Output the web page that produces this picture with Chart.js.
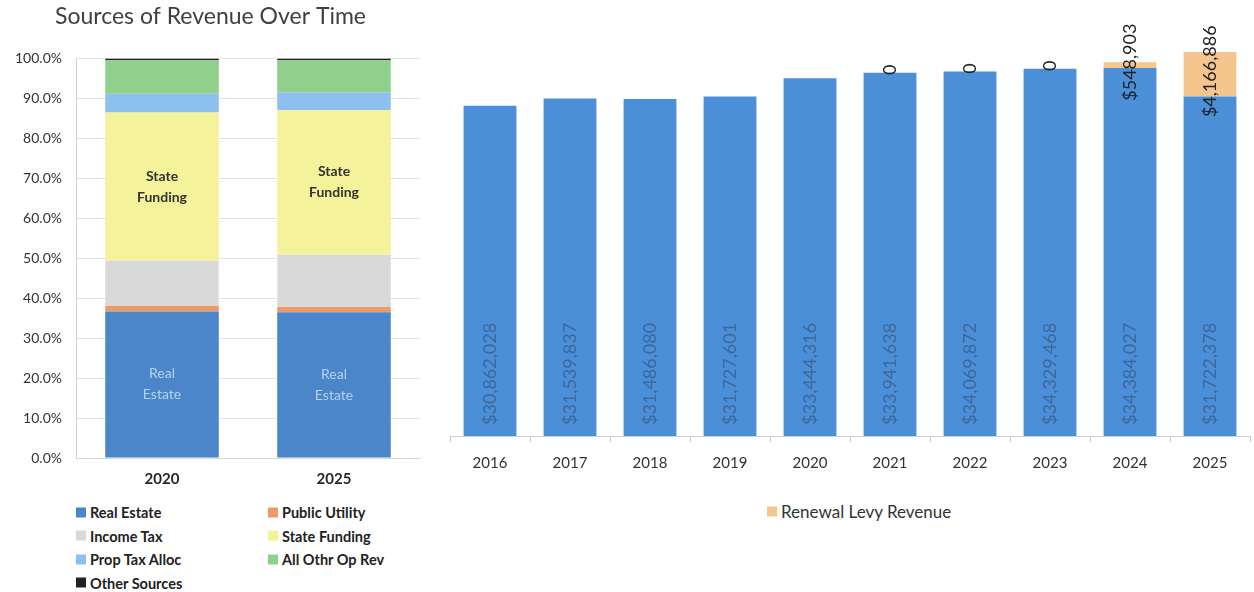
<!DOCTYPE html>
<html>
<head>
<meta charset="utf-8">
<title>Sources of Revenue Over Time</title>
<script src="https://cdn.jsdelivr.net/npm/chart.js@4.4.0/dist/chart.umd.min.js"></script>
<style>
    body {
        margin: 0;
        width: 1254px;
        height: 592px;
        position: relative;
        overflow: hidden;
        background: #fff;
        font-family: Lato, 'Open Sans', sans-serif;
    }
    #mixChart { position: absolute; left: 0; top: 0; }
    #levyChart { position: absolute; left: 440px; top: 0; }
    .legend-item {
        position: absolute;
        display: flex;
        align-items: center;
        white-space: nowrap;
        color: #222;
        transform: translateY(-50%);
    }
    .legend-box {
        width: 10px;
        height: 10px;
        margin-right: 4px;
    }
    #mixLegend .legend-item { font-size: 14.5px; font-weight: bold; }
    #levyLegend .legend-item { font-size: 17px; color: #333; }
</style>
</head>
<body>
<canvas id="mixChart" width="430" height="503"></canvas>
<canvas id="levyChart" width="814" height="492"></canvas>
<div id="mixLegend"></div>
<div id="levyLegend"></div>

<script>
// Revenue mix, percent of total
const mixYears = ['2020', '2025'];
const mixSources = ['Real Estate', 'Public Utility', 'Income Tax', 'State Funding', 'Prop Tax Alloc', 'All Othr Op Rev', 'Other Sources'];
const realEstate = [36.7, 36.5];
const publicUtility = [1.4, 1.3];
const incomeTax = [11.3, 13.1];
const stateFunding = [37.1, 36.2];
const propTaxAlloc = [4.7, 4.4];
const allOthrOpRev = [8.4, 8.1];
const otherSources = [0.4, 0.4];
const mixColors = ['#4a86c8', '#ee9a66', '#d9d9d9', '#f4f29b', '#8dc0ee', '#8fd18c', '#222222'];

// Real estate collections by year
const levyYears = ['2016', '2017', '2018', '2019', '2020', '2021', '2022', '2023', '2024', '2025'];
const baseRevenue = [30862028, 31539837, 31486080, 31727601, 33444316, 33941638, 34069872, 34329468, 34384027, 31722378];
const renewalLevy = [null, null, null, null, null, 0, 0, 0, 548903, 4166886];

const fontFamily = "Lato, 'Open Sans', sans-serif";

function formatDollar(value) {
    if (value === 0) return '0';
    return '$' + value.toLocaleString('en-US');
}

// Two-line names drawn inside the Real Estate and State Funding segments
const segmentNames = {
    id: 'segmentNames',
    afterDatasetsDraw(chart) {
        const ctx = chart.ctx;
        const named = [
            { index: 0, lines: ['Real', 'Estate'], color: '#b4d2ee', weight: 'normal' },
            { index: 3, lines: ['State', 'Funding'], color: '#333333', weight: 'bold' }
        ];
        named.forEach(n => {
            chart.getDatasetMeta(n.index).data.forEach(bar => {
                const cy = (bar.y + bar.base) / 2;
                ctx.save();
                ctx.fillStyle = n.color;
                ctx.font = `${n.weight} 14px ${fontFamily}`;
                ctx.textAlign = 'center';
                ctx.textBaseline = 'middle';
                ctx.fillText(n.lines[0], bar.x, cy - 10.5);
                ctx.fillText(n.lines[1], bar.x, cy + 10.5);
                ctx.restore();
            });
        });
    }
};

// Rotated dollar labels on the yearly bars
const levyLabels = {
    id: 'levyLabels',
    afterDatasetsDraw(chart) {
        const ctx = chart.ctx;
        chart.data.datasets.forEach((ds, di) => {
            chart.getDatasetMeta(di).data.forEach((bar, i) => {
                const value = ds.data[i];
                if (value === null || value === undefined) return;
                ctx.save();
                ctx.font = `18px ${fontFamily}`;
                ctx.textBaseline = 'middle';
                if (di === 0) {
                    ctx.translate(bar.x, bar.base - 11);
                    ctx.textAlign = 'left';
                    ctx.fillStyle = 'rgba(45, 65, 95, 0.5)';
                } else {
                    ctx.translate(bar.x, (bar.y + bar.base) / 2 - 3);
                    ctx.textAlign = 'center';
                    ctx.fillStyle = '#222';
                }
                ctx.rotate(-Math.PI / 2);
                ctx.fillText(formatDollar(value), 0, 0);
                ctx.restore();
            });
        });
    }
};

const mixValues = [realEstate, publicUtility, incomeTax, stateFunding, propTaxAlloc, allOthrOpRev, otherSources];

const mixChart = new Chart(document.getElementById('mixChart'), {
    type: 'bar',
    data: {
        labels: mixYears,
        datasets: mixSources.map((name, i) => ({
            label: name,
            data: mixValues[i],
            backgroundColor: mixColors[i],
            borderWidth: 0,
            categoryPercentage: 1,
            barPercentage: 0.66
        }))
    },
    options: {
        responsive: false,
        animation: false,
        layout: { padding: { left: 1, right: 10, top: 0, bottom: 3 } },
        plugins: {
            legend: { display: false },
            tooltip: { enabled: false },
            title: {
                display: true,
                text: 'Sources of Revenue Over Time',
                color: '#404040',
                font: { family: fontFamily, size: 23, weight: 'normal' },
                padding: { top: 3, bottom: 28 }
            }
        },
        scales: {
            x: {
                stacked: true,
                grid: { display: false, drawTicks: false },
                border: { color: '#d9d9d9' },
                ticks: { color: '#262626', font: { family: fontFamily, size: 15, weight: 'bold' }, padding: 12 }
            },
            y: {
                stacked: true,
                min: 0,
                max: 100,
                grid: { color: '#e2e2e2', drawTicks: false },
                border: { color: '#cfcfcf' },
                ticks: {
                    stepSize: 10,
                    padding: 14,
                    color: '#333',
                    font: { family: fontFamily, size: 14 },
                    callback: v => v.toFixed(1) + '%'
                }
            }
        }
    },
    plugins: [segmentNames]
});

const levyChart = new Chart(document.getElementById('levyChart'), {
    type: 'bar',
    data: {
        labels: levyYears,
        datasets: [
            {
                label: 'Base Revenue',
                data: baseRevenue,
                backgroundColor: '#4a8fd8',
                borderWidth: 0,
                categoryPercentage: 1,
                barPercentage: 0.66
            },
            {
                label: 'Renewal Levy Revenue',
                data: renewalLevy,
                backgroundColor: '#f5c58e',
                borderWidth: 0,
                categoryPercentage: 1,
                barPercentage: 0.66
            }
        ]
    },
    options: {
        responsive: false,
        animation: false,
        layout: { padding: { left: 10, right: 4, top: 8, bottom: 8 } },
        plugins: {
            legend: { display: false },
            tooltip: { enabled: false }
        },
        scales: {
            x: {
                stacked: true,
                grid: { drawOnChartArea: false, drawTicks: true, tickLength: 6, color: '#c8c8c8' },
                border: { color: '#d0d0d0' },
                ticks: { color: '#333', font: { family: fontFamily, size: 15 }, padding: 12 }
            },
            y: {
                stacked: true,
                display: false,
                min: 0,
                max: 40000000
            }
        }
    },
    plugins: [levyLabels]
});

// HTML legends built from the chart datasets
function addLegendItem(container, label, color, left, top) {
    const item = document.createElement('div');
    item.className = 'legend-item';
    item.style.left = left + 'px';
    item.style.top = top + 'px';
    item.innerHTML = `<span class="legend-box" style="background:${color}"></span><span>${label}</span>`;
    container.appendChild(item);
}

const mixLegend = document.getElementById('mixLegend');
mixChart.data.datasets.forEach((ds, i) => {
    const col = i % 2;
    const row = Math.floor(i / 2);
    addLegendItem(mixLegend, ds.label, ds.backgroundColor, col === 0 ? 76 : 268, 512 + row * 23.5);
});

const levyLegend = document.getElementById('levyLegend');
const levyDs = levyChart.data.datasets[1];
addLegendItem(levyLegend, levyDs.label, levyDs.backgroundColor, 767, 511);
</script>
</body>
</html>
